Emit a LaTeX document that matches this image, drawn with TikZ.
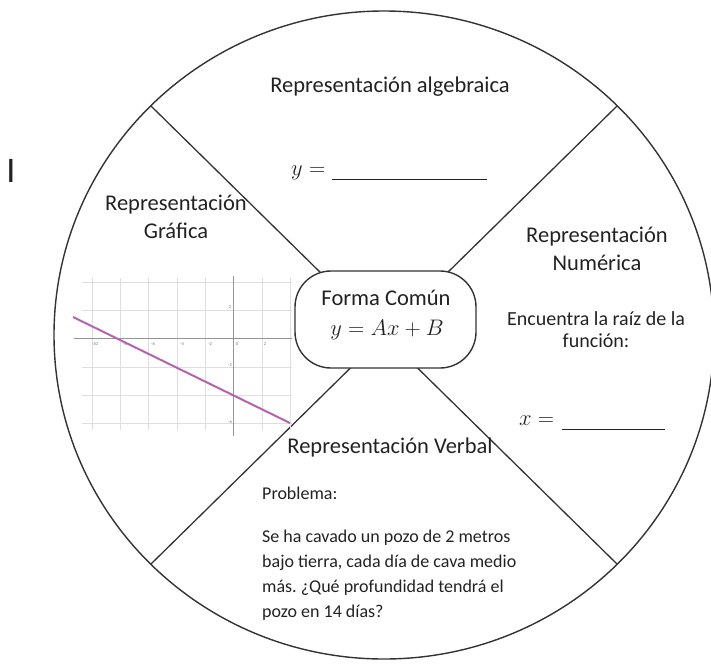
\RequirePackage{fix-cm}
\documentclass[tikz,border=0pt]{standalone}
\usepackage{fontspec}
\setmainfont{Carlito}
\frenchspacing
\definecolor{ink}{HTML}{222222}
\definecolor{rimc}{HTML}{333333}
\definecolor{plotc}{HTML}{B463AC}
\tikzset{
  rim/.style={line width=1.4pt, draw=rimc},
  spoke/.style={line width=1.3pt, draw=rimc},
  hub/.style={draw=rimc, line width=1.4pt, fill=white, rounded corners=36pt,
              minimum width=181pt, minimum height=97pt, inner sep=0pt},
  title/.style={font=\fontsize{22.5}{28}\selectfont, text=ink, inner sep=0pt, align=center},
  note/.style={font=\fontsize{20}{22}\selectfont, text=ink, inner sep=0pt, align=center},
  para/.style={font=\fontsize{18}{25}\selectfont, text=ink, inner sep=0pt, align=left, anchor=north west},
  mathlbl/.style={font=\fontsize{22.5}{26}\selectfont, text=ink, inner sep=0pt},
  gridln/.style={draw=black!13, line width=0.8pt},
  axisln/.style={draw=black!42, line width=0.9pt},
  tick/.style={font=\fontsize{4.5}{5}\selectfont, text=black!55, inner sep=0pt},
  plotln/.style={draw=plotc, line width=2pt},
}
\begin{document}
\begin{tikzpicture}[x=1pt,y=-1pt]
\useasboundingbox (0,0) rectangle (711,664);
% outer circle
\coordinate (c) at (384,335);
\draw[rim] (c) ellipse [x radius=330, y radius=324];
% spoke end points on the rim
\coordinate (tl) at (151,106);
\coordinate (tr) at (617,106);
\coordinate (bl) at (151,564);
\coordinate (br) at (617,564);
\draw[spoke] (tl) -- (c);
\draw[spoke] (tr) -- (c);
\draw[spoke] (bl) -- (c);
\draw[spoke] (br) -- (c);
% central box
\node[hub] (box) at (385.5,319.5) {};
\node[title] (fc) at (386,298) {Forma Común};
\node[mathlbl] (eq) at (387,330) {$y = Ax + B$};
% top sector
\node[title] (alg) at (390,87) {Representación algebraica};
\node[mathlbl, anchor=west] (yeq) at (291,173) {$y =$\hspace{7pt}\rule[-0.2em]{155pt}{1.3pt}};
% left sector
\node[title] (graf) at (176,217) {Representación\\Gráfica};
% right sector
\node[title] (num) at (597,249) {Representación\\Numérica};
\node[note] (enc) at (596,330) {Encuentra la raíz de la\\función:};
\node[mathlbl, anchor=west] (xeq) at (519,423) {$x =$\hspace{8pt}\rule[-0.2em]{103pt}{1.3pt}};
% bottom sector
\node[title] (verb) at (390,447) {Representación Verbal};
\node[para] (prob) at (262,487) {Problema:};
\node[para] (txt) at (262,530) {Se ha cavado un pozo de 2 metros\\bajo tierra, cada día de cava medio\\más. ¿Qué profundidad tendrá el\\pozo en 14 días?};
% stray letter
\node[font=\fontsize{36}{40}\selectfont, text=ink, inner sep=0pt] (ltr) at (11,171) {I};
% graph
\foreach \gx in {92,120,148,177,205,262,290}
  \draw[gridln] (\gx,278) -- (\gx,430);
\foreach \gy in {282,310,367,395,423}
  \draw[gridln] (82,\gy) -- (292,\gy);
\draw[axisln] (74,338) -- (292,338);
\draw[axisln] (233,276) -- (233,436);
\foreach \px/\lab in {95/-10,125/-8,153/-6,182/-4,210/-2,265/2}
  \node[tick] at (\px,344) {\lab};
\node[tick] at (237,344) {0};
\node[tick] at (230,307) {2};
\node[tick] at (230,365) {-2};
\node[tick] at (230,422) {-6};
\coordinate (p1) at (73,317);
\coordinate (p2) at (290,423);
\draw[plotln] (p1) -- (p2);
\end{tikzpicture}
\end{document}
